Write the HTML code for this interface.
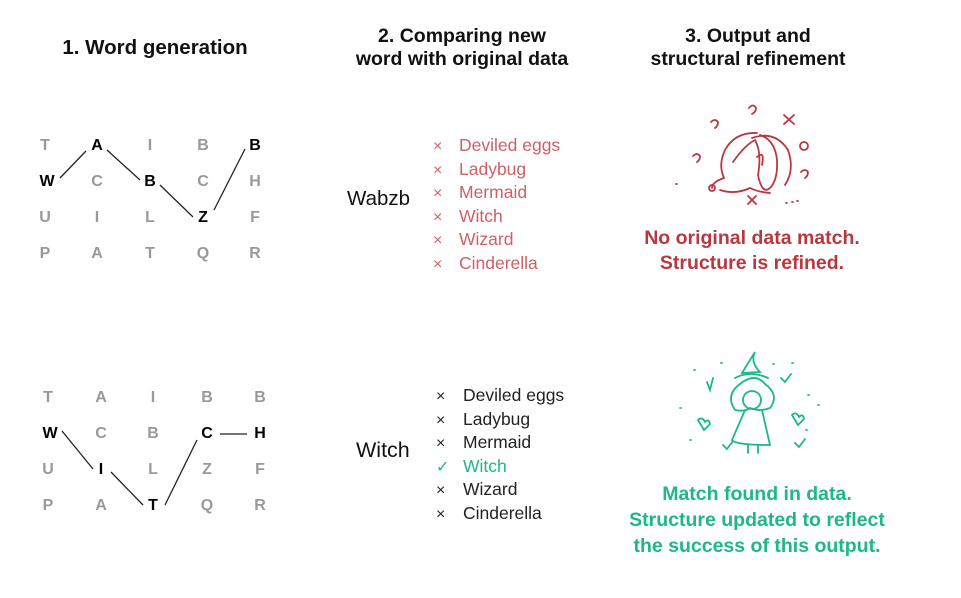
<!DOCTYPE html><html><head><style>
body{margin:0;width:961px;height:598px;background:#fff;position:relative;font-family:"Liberation Sans",sans-serif;overflow:hidden}
.a{position:absolute;white-space:nowrap}
.h{font-weight:bold;font-size:19.5px;color:#111;text-align:center;line-height:23px;transform:translateX(-50%)}
.g{font-weight:bold;font-size:16px;color:#999;transform:translate(-50%,-50%)}
.k{color:#000}
.li{font-size:17.5px;line-height:23.6px}
.x{font-size:16px;line-height:23.6px}
</style></head><body>
<div class="a h" style="left:155px;top:36px;font-size:20.5px">1. Word generation</div>
<div class="a h" style="left:462px;top:25px">2. Comparing new<br>word with original data</div>
<div class="a h" style="left:748px;top:25px">3. Output and<br>structural refinement</div>

<svg class="a" style="left:0;top:0" width="961" height="598">
<g stroke="#222" stroke-width="1.3" fill="none">
<line x1="60" y1="178" x2="86" y2="151"/><line x1="107" y1="150" x2="140" y2="180"/>
<line x1="160" y1="185" x2="193" y2="217"/><line x1="214" y1="210" x2="245" y2="149"/>
<line x1="62" y1="431" x2="93" y2="469"/><line x1="111" y1="472" x2="143" y2="505"/>
<line x1="165" y1="505" x2="197" y2="440"/><line x1="220" y1="434" x2="247" y2="434"/>
</g>
<g stroke="#b8383f" stroke-width="1.8" fill="none" stroke-linecap="round">
<path d="M757 133 Q735 132 725 150 Q718 165 724 178 Q712 182 712 188"/>
<path d="M733 162 Q745 145 755 140 Q762 152 758 175 Q762 195 770 188 Q778 180 777 160 Q775 140 760 135"/>
<path d="M752 138 Q775 130 788 150 Q795 170 785 185"/>
<path d="M720 190 Q735 195 750 188 Q758 192 770 193"/>
<path d="M757 157 Q765 150 762 165"/>
<path d="M784 115 l10 9 M794 115 l-10 9 M748 196 l8 8 M756 196 l-8 8"/>
<path d="M749 108 q4 -5 7 0 q0 4 -4 6 M711 122 q4 -4 7 0 q0 4 -3 6 M693 156 q4 -4 7 0 q0 4 -3 6 M801 172 q4 -4 7 0 q0 4 -3 6"/>
<circle cx="804" cy="146" r="4"/><circle cx="712" cy="188" r="3"/>
<path d="M786 203 h1 M792 202 h1 M797 201 h1 M676 184 h1"/>
</g>
<g stroke="#1db887" stroke-width="1.8" fill="none" stroke-linecap="round">
<path d="M742 373 L755 352 Q750 362 760 372 Z"/>
<path d="M735 378 Q750 370 768 378"/>
<path d="M740 384 Q725 395 735 410 Q745 412 750 408 Q760 412 770 408 Q780 395 765 384 Q755 372 740 384"/>
<circle cx="752" cy="400" r="9"/>
<path d="M745 410 L732 440 Q735 445 770 445 L762 410"/>
<path d="M748 445 v8 M758 445 v8"/>
<path d="M707 382 l3 8 l3 -12 M781 378 l4 4 l6 -8 M723 445 l4 4 l6 -8 M795 443 l4 4 l6 -8"/>
<path d="M698 420 q4 -4 7 2 q4 -4 5 2 l-6 6 z M792 415 q4 -4 7 2 q4 -4 5 2 l-6 6 z"/>
<path d="M694 370h1 M721 363h1 M773 364h1 M792 363h1 M808 395h1 M818 405h1 M680 408h1 M690 440h1 M806 430h1"/>
</g>
</svg>

<div class="a g" style="left:45px;top:146px">T</div><div class="a g k" style="left:97px;top:146px">A</div><div class="a g" style="left:150px;top:146px">I</div><div class="a g" style="left:203px;top:146px">B</div><div class="a g k" style="left:255px;top:146px">B</div>
<div class="a g k" style="left:47px;top:182px">W</div><div class="a g" style="left:97px;top:182px">C</div><div class="a g k" style="left:150px;top:182px">B</div><div class="a g" style="left:203px;top:182px">C</div><div class="a g" style="left:255px;top:182px">H</div>
<div class="a g" style="left:45px;top:218px">U</div><div class="a g" style="left:97px;top:218px">I</div><div class="a g" style="left:150px;top:218px">L</div><div class="a g k" style="left:203px;top:218px">Z</div><div class="a g" style="left:255px;top:218px">F</div>
<div class="a g" style="left:45px;top:254px">P</div><div class="a g" style="left:97px;top:254px">A</div><div class="a g" style="left:150px;top:254px">T</div><div class="a g" style="left:203px;top:254px">Q</div><div class="a g" style="left:255px;top:254px">R</div>

<div class="a g" style="left:48px;top:398px">T</div><div class="a g" style="left:101px;top:398px">A</div><div class="a g" style="left:153px;top:398px">I</div><div class="a g" style="left:207px;top:398px">B</div><div class="a g" style="left:260px;top:398px">B</div>
<div class="a g k" style="left:50px;top:434px">W</div><div class="a g" style="left:101px;top:434px">C</div><div class="a g" style="left:153px;top:434px">B</div><div class="a g k" style="left:207px;top:434px">C</div><div class="a g k" style="left:260px;top:434px">H</div>
<div class="a g" style="left:48px;top:470px">U</div><div class="a g k" style="left:101px;top:470px">I</div><div class="a g" style="left:153px;top:470px">L</div><div class="a g" style="left:207px;top:470px">Z</div><div class="a g" style="left:260px;top:470px">F</div>
<div class="a g" style="left:48px;top:506px">P</div><div class="a g" style="left:101px;top:506px">A</div><div class="a g k" style="left:153px;top:506px">T</div><div class="a g" style="left:207px;top:506px">Q</div><div class="a g" style="left:260px;top:506px">R</div>

<div class="a" style="left:347px;top:187px;font-size:20.5px;color:#111">Wabzb</div>
<div class="a" style="left:356px;top:438px;font-size:21.5px;color:#111">Witch</div>

<div class="a x" style="left:433px;top:135px;color:#cc6168">×<br>×<br>×<br>×<br>×<br>×</div>
<div class="a li" style="left:459px;top:134px;color:#cc6168">Deviled eggs<br>Ladybug<br>Mermaid<br>Witch<br>Wizard<br>Cinderella</div>
<div class="a x" style="left:436px;top:385px;color:#222">×<br>×<br>×<br><span style="color:#1db887">✓</span><br>×<br>×</div>
<div class="a li" style="left:463px;top:384px;color:#222">Deviled eggs<br>Ladybug<br>Mermaid<br><span style="color:#1db887">Witch</span><br>Wizard<br>Cinderella</div>

<div class="a h" style="left:752px;top:226px;color:#b8383f;line-height:25px;font-size:19.5px">No original data match.<br>Structure is refined.</div>
<div class="a h" style="left:757px;top:481px;color:#1db887;line-height:26px;font-size:19.5px">Match found in data.<br>Structure updated to reflect<br>the success of this output.</div>
</body></html>
